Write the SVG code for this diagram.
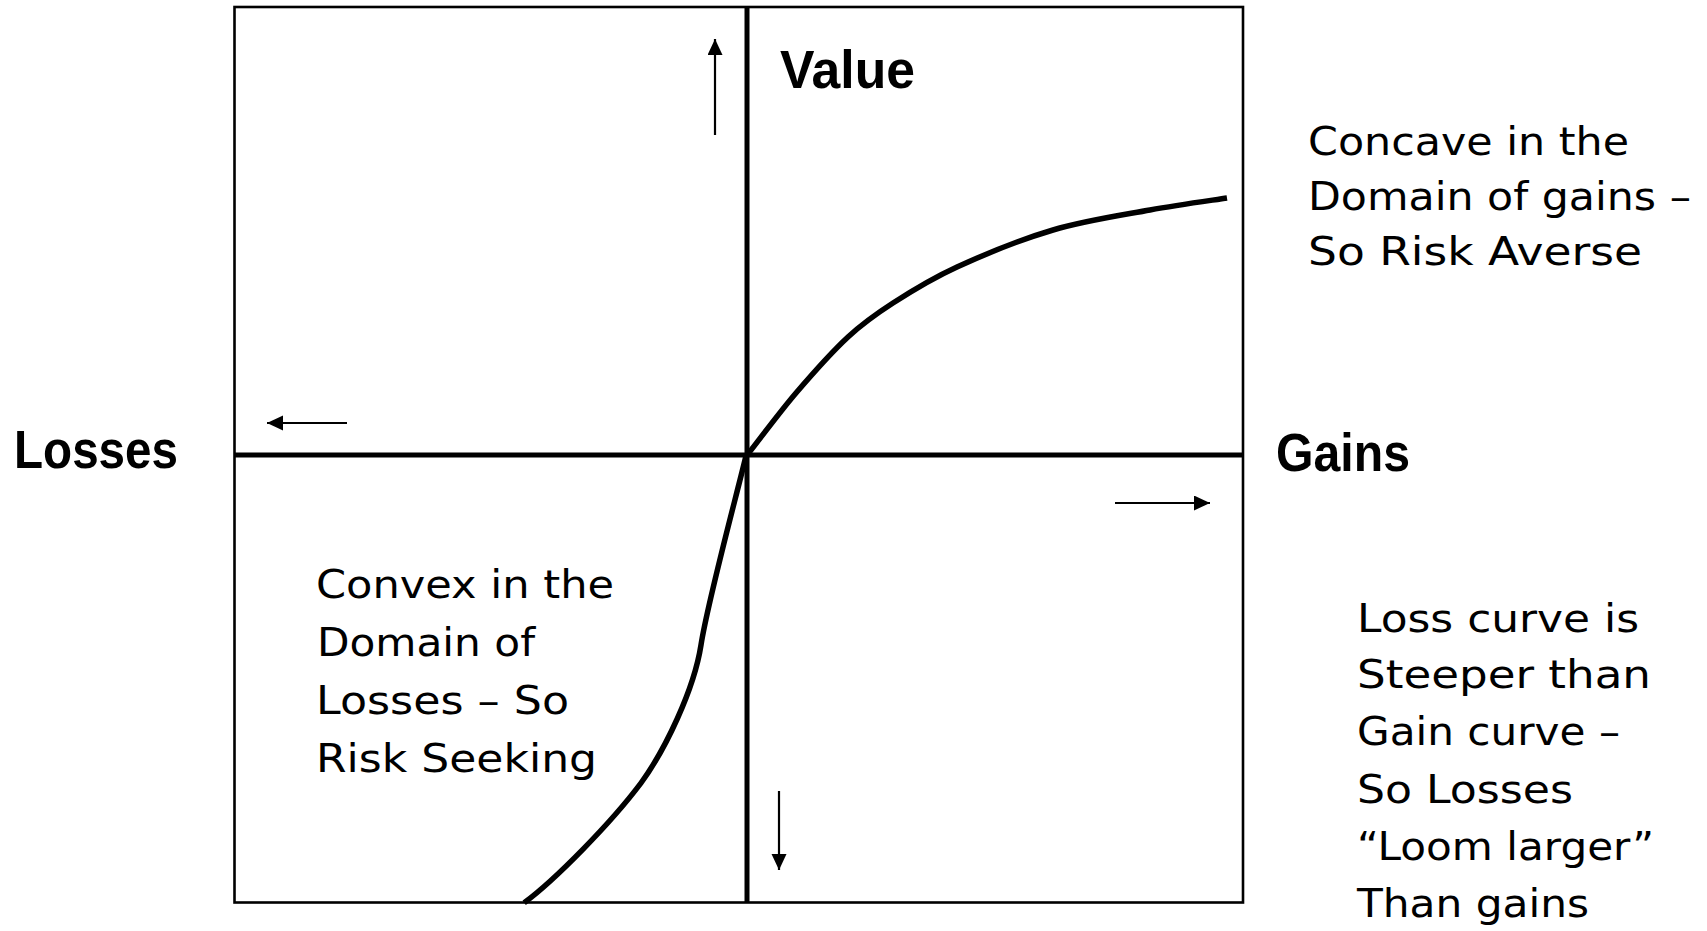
<svg xmlns="http://www.w3.org/2000/svg" width="1707" height="931" viewBox="0 0 1707 931">
<style>
.frame{fill:none;stroke:#000;stroke-width:2.6}
.axis{stroke:#000;stroke-width:5;fill:none}
.curve{stroke:#000;stroke-width:5.5;fill:none;stroke-linecap:butt}
.arr{stroke:#000;stroke-width:2.2;fill:none;marker-end:url(#head)}
.lbl{font-family:"Liberation Sans",Arial,sans-serif;font-weight:bold;font-size:54px;fill:#000}
.txt{font-family:"DejaVu Sans","Noto Sans",sans-serif;font-size:39px;fill:#000}
</style>
<defs>
<marker id="head" markerUnits="userSpaceOnUse" markerWidth="18" markerHeight="16" refX="16" refY="7.5" orient="auto">
<path d="M0,0 L16,7.5 L0,15 z" fill="#000"/>
</marker>
</defs>
<g id="chart">
<rect class="frame" x="234.5" y="7" width="1008.5" height="895.5"/>
<line class="axis" x1="747" y1="7" x2="747" y2="902.5"/>
<line class="axis" x1="234.5" y1="455" x2="1243" y2="455"/>
</g>
<g id="curves">
<path id="gain-curve" class="curve" d="M748,454 C756,444 779.3,412.5 796,393 C812.7,373.5 831.8,352 848,337 C864.2,322 874.8,314.7 893,303 C911.2,291.3 930.3,279.2 957,267 C983.7,254.8 1020.8,239.5 1053,230 C1085.2,220.5 1121,215.3 1150,210 C1179,204.7 1214.2,200 1227,198"/>
<path id="loss-curve" class="curve" d="M746.2,455 C738,490 708,600 701,645 C694,690 665,750 641,783 C611,823 555,880 524.2,902.7"/>
</g>
<g id="connectors">
<line class="arr" x1="715" y1="135" x2="715" y2="39"/>
<line class="arr" x1="347" y1="423" x2="267" y2="423"/>
<line class="arr" x1="779" y1="791" x2="779" y2="870"/>
<line class="arr" x1="1115" y1="503" x2="1210" y2="503"/>
</g>
<g id="value-label"><text class="lbl" x="780" y="88" textLength="135" lengthAdjust="spacingAndGlyphs">Value</text></g>
<g id="losses-label"><text class="lbl" x="14" y="468" textLength="164" lengthAdjust="spacingAndGlyphs">Losses</text></g>
<g id="gains-label"><text class="lbl" x="1276" y="471" textLength="134" lengthAdjust="spacingAndGlyphs">Gains</text></g>
<g id="concave-note">
<text class="txt" x="1308" y="155" textLength="321" lengthAdjust="spacingAndGlyphs">Concave in the</text>
<text class="txt" x="1308" y="210" textLength="383" lengthAdjust="spacingAndGlyphs">Domain of gains –</text>
<text class="txt" x="1308" y="265" textLength="334" lengthAdjust="spacingAndGlyphs">So Risk Averse</text>
</g>
<g id="convex-note">
<text class="txt" x="316" y="598" textLength="298" lengthAdjust="spacingAndGlyphs">Convex in the</text>
<text class="txt" x="317" y="656" textLength="218" lengthAdjust="spacingAndGlyphs">Domain of</text>
<text class="txt" x="316" y="714" textLength="253" lengthAdjust="spacingAndGlyphs">Losses – So</text>
<text class="txt" x="316" y="772" textLength="281" lengthAdjust="spacingAndGlyphs">Risk Seeking</text>
</g>
<g id="loss-note">
<text class="txt" x="1357" y="632" textLength="282" lengthAdjust="spacingAndGlyphs">Loss curve is</text>
<text class="txt" x="1357" y="688" textLength="294" lengthAdjust="spacingAndGlyphs">Steeper than</text>
<text class="txt" x="1357" y="745" textLength="263" lengthAdjust="spacingAndGlyphs">Gain curve –</text>
<text class="txt" x="1357" y="803" textLength="216" lengthAdjust="spacingAndGlyphs">So Losses</text>
<text class="txt" x="1357" y="860" textLength="297" lengthAdjust="spacingAndGlyphs">“Loom larger”</text>
<text class="txt" x="1357" y="917" textLength="232" lengthAdjust="spacingAndGlyphs">Than gains</text>
</g>
</svg>
